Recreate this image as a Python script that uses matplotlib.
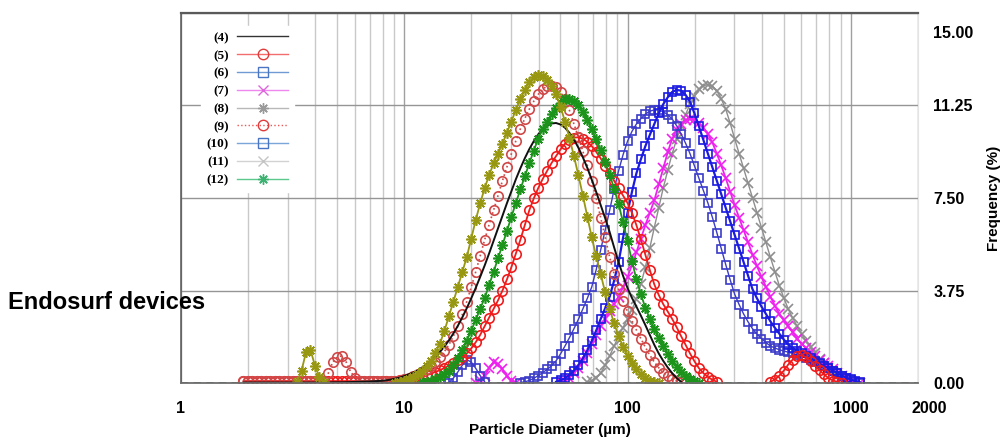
import matplotlib
matplotlib.use("Agg")
import matplotlib.pyplot as plt
import matplotlib.transforms as mtransforms
from matplotlib.lines import Line2D
from matplotlib.ticker import FixedLocator, LogLocator, NullFormatter
import numpy as np

plt.rcParams["font.family"] = ["Liberation Sans", "DejaVu Sans"]
plt.rcParams["font.weight"] = "bold"

# particle size classes (um)
diameter_um = [
    1.905, 1.995, 2.089, 2.188, 2.291, 2.399, 2.512, 2.630, 2.754, 2.884,
    3.020, 3.162, 3.311, 3.467, 3.631, 3.802, 3.981, 4.169, 4.365, 4.571,
    4.786, 5.012, 5.248, 5.495, 5.754, 6.026, 6.310, 6.607, 6.918, 7.244,
    7.586, 7.943, 8.318, 8.710, 9.120, 9.550, 10.00, 10.47, 10.96, 11.48,
    12.02, 12.59, 13.18, 13.80, 14.45, 15.14, 15.85, 16.60, 17.38, 18.20,
    19.05, 19.95, 20.89, 21.88, 22.91, 23.99, 25.12, 26.30, 27.54, 28.84,
    30.20, 31.62, 33.11, 34.67, 36.31, 38.02, 39.81, 41.69, 43.65, 45.71,
    47.86, 50.12, 52.48, 54.95, 57.54, 60.26, 63.10, 66.07, 69.18, 72.44,
    75.86, 79.43, 83.18, 87.10, 91.20, 95.50, 100.0, 104.7, 109.6, 114.8,
    120.2, 125.9, 131.8, 138.0, 144.5, 151.4, 158.5, 166.0, 173.8, 182.0,
    190.5, 199.5, 208.9, 218.8, 229.1, 239.9, 251.2, 263.0, 275.4, 288.4,
    302.0, 316.2, 331.1, 346.7, 363.1, 380.2, 398.1, 416.9, 436.5, 457.1,
    478.6, 501.2, 524.8, 549.5, 575.4, 602.6, 631.0, 660.7, 691.8, 724.4,
    758.6, 794.3, 831.8, 871.0, 912.0, 955.0, 1000., 1047., 1096.,
]

# frequency (%) per size class for each device
freq_4 = [
    0.02, 0.02, 0.02, 0.02, 0.02, 0.02, 0.02, 0.02, 0.02, 0.02,
    0.02, 0.02, 0.02, 0.02, 0.02, 0.02, 0.02, 0.02, 0.02, 0.02,
    0.03, 0.03, 0.03, 0.035, 0.04, 0.045, 0.05, 0.055, 0.06, 0.07,
    0.08, 0.09, 0.11, 0.14, 0.18, 0.22, 0.28, 0.35, 0.42, 0.51,
    0.62, 0.75, 0.90, 1.07, 1.26, 1.48, 1.73, 2.01, 2.32, 2.66,
    3.03, 3.43, 3.85, 4.30, 4.76, 5.25, 5.76, 6.27, 6.78, 7.29,
    7.78, 8.26, 8.70, 9.11, 9.48, 9.80, 10.08, 10.29, 10.44, 10.52,
    10.54, 10.48, 10.35, 10.14, 9.87, 9.54, 9.15, 8.72, 8.24, 7.74,
    7.21, 6.68, 6.12, 5.50, 4.90, 4.35, 3.85, 3.45, 3.10, 2.73,
    2.35, 1.95, 1.55, 1.20, 0.90, 0.63, 0.40, 0.20, 0.05, 0,
    0, 0, 0, 0, 0, 0, 0, 0, 0, 0,
    0, 0, 0, 0, 0, 0, 0, 0, 0, 0,
    0, 0, 0, 0, 0, 0, 0, 0, 0, 0,
    0, 0, 0, 0, 0, 0, 0, 0, 0,
]
freq_5 = [
    0.08, 0.08, 0.08, 0.08, 0.08, 0.08, 0.08, 0.08, 0.08, 0.08,
    0.08, 0.08, 0.08, 0.08, 0.08, 0.08, 0.08, 0.08, 0.08, 0.08,
    0.08, 0.08, 0.08, 0.08, 0.08, 0.08, 0.08, 0.08, 0.08, 0.08,
    0.08, 0.085, 0.09, 0.095, 0.10, 0.11, 0.12, 0.15, 0.18, 0.21,
    0.25, 0.31, 0.38, 0.45, 0.52, 0.61, 0.70, 0.80, 0.92, 1.05,
    1.20, 1.40, 1.65, 1.95, 2.30, 2.65, 3.00, 3.35, 3.75, 4.20,
    4.70, 5.25, 5.80, 6.40, 7.00, 7.48, 7.90, 8.27, 8.60, 8.92,
    9.20, 9.47, 9.70, 9.87, 9.95, 9.96, 9.90, 9.78, 9.60, 9.37,
    9.10, 8.80, 8.50, 8.20, 7.90, 7.60, 7.30, 6.90, 6.40, 5.82,
    5.20, 4.58, 4.00, 3.57, 3.20, 2.90, 2.60, 2.26, 1.90, 1.55,
    1.20, 0.88, 0.60, 0.40, 0.25, 0.13, 0.05, 0, 0, 0,
    0, 0, 0, 0, 0, 0, 0, 0, 0.05, 0.14,
    0.30, 0.50, 0.75, 0.95, 1.10, 1.12, 1.05, 0.90, 0.70, 0.52,
    0.35, 0.20, 0.10, 0.05, 0.02, 0, 0, 0, 0,
]
freq_6 = [
    0, 0, 0, 0, 0, 0, 0, 0, 0, 0,
    0, 0, 0, 0, 0, 0, 0, 0, 0, 0,
    0, 0, 0, 0, 0, 0, 0, 0, 0, 0,
    0, 0, 0, 0, 0, 0, 0, 0, 0, 0,
    0, 0, 0, 0, 0, 0, 0.02, 0.20, 0.45, 0.72,
    0.95, 0.85, 0.60, 0.30, 0.05, 0, 0, 0, 0, 0,
    0, 0, 0.02, 0.05, 0.10, 0.19, 0.30, 0.42, 0.55, 0.70,
    0.90, 1.18, 1.50, 1.84, 2.20, 2.58, 3.00, 3.43, 3.90, 4.60,
    5.40, 6.20, 7.00, 7.85, 8.60, 9.25, 9.80, 10.20, 10.50, 10.72,
    10.90, 11.02, 11.07, 11.06, 11.00, 10.88, 10.70, 10.43, 10.10, 9.72,
    9.30, 8.80, 8.30, 7.80, 7.30, 6.72, 6.10, 5.45, 4.80, 4.18,
    3.60, 3.18, 2.80, 2.48, 2.20, 1.98, 1.80, 1.64, 1.50, 1.42,
    1.35, 1.30, 1.25, 1.20, 1.15, 1.08, 1.00, 0.92, 0.85, 0.78,
    0.70, 0.60, 0.50, 0.40, 0.30, 0.20, 0.12, 0.06, 0.02,
]
freq_7 = [
    0, 0, 0, 0, 0, 0, 0, 0, 0, 0,
    0, 0, 0, 0, 0, 0, 0, 0, 0, 0,
    0, 0, 0, 0, 0, 0, 0, 0, 0, 0,
    0, 0, 0, 0, 0, 0, 0, 0, 0, 0,
    0, 0, 0, 0, 0, 0, 0, 0, 0, 0,
    0, 0, 0.02, 0.12, 0.30, 0.60, 0.85, 0.78, 0.55, 0.30,
    0.10, 0.02, 0, 0, 0, 0, 0, 0, 0, 0,
    0, 0.03, 0.10, 0.22, 0.40, 0.62, 0.90, 1.22, 1.60, 1.95,
    2.30, 2.60, 2.90, 3.20, 3.50, 3.88, 4.30, 4.78, 5.30, 5.85,
    6.40, 6.90, 7.40, 8.05, 8.70, 9.35, 9.90, 10.25, 10.50, 10.65,
    10.72, 10.68, 10.55, 10.35, 10.10, 9.75, 9.30, 8.82, 8.30, 7.76,
    7.20, 6.70, 6.20, 5.70, 5.20, 4.74, 4.30, 3.90, 3.50, 3.14,
    2.80, 2.55, 2.30, 2.05, 1.80, 1.60, 1.40, 1.25, 1.10, 0.95,
    0.80, 0.68, 0.55, 0.42, 0.30, 0.19, 0.10, 0.05, 0.02,
]
freq_8 = [
    0, 0, 0, 0, 0, 0, 0, 0, 0, 0,
    0, 0, 0.05, 0.50, 1.25, 1.35, 0.70, 0.25, 0.05, 0,
    0, 0, 0, 0, 0, 0, 0, 0, 0, 0,
    0, 0, 0, 0, 0.02, 0.05, 0.10, 0.17, 0.25, 0.36,
    0.50, 0.68, 0.90, 1.22, 1.60, 2.12, 2.70, 3.30, 3.90, 4.50,
    5.10, 5.85, 6.60, 7.28, 7.90, 8.42, 8.90, 9.30, 9.70, 10.15,
    10.60, 11.08, 11.50, 11.88, 12.20, 12.40, 12.50, 12.46, 12.30, 12.05,
    11.70, 11.20, 10.60, 9.93, 9.20, 8.42, 7.60, 6.75, 5.90, 5.13,
    4.40, 3.68, 3.00, 2.42, 1.90, 1.48, 1.10, 0.80, 0.55, 0.35,
    0.20, 0.10, 0.05, 0.02, 0, 0, 0, 0, 0, 0,
    0, 0, 0, 0, 0, 0, 0, 0, 0, 0,
    0, 0, 0, 0, 0, 0, 0, 0, 0, 0,
    0, 0, 0, 0, 0, 0, 0, 0, 0, 0,
    0, 0, 0, 0, 0, 0, 0, 0, 0,
]
freq_9 = [
    0.08, 0.08, 0.08, 0.08, 0.08, 0.08, 0.08, 0.08, 0.08, 0.08,
    0.08, 0.08, 0.08, 0.08, 0.08, 0.08, 0.08, 0.08, 0.10, 0.40,
    0.85, 1.05, 1.10, 0.85, 0.45, 0.22, 0.10, 0.08, 0.08, 0.08,
    0.08, 0.08, 0.08, 0.09, 0.10, 0.12, 0.15, 0.21, 0.30, 0.37,
    0.45, 0.56, 0.70, 0.86, 1.05, 1.28, 1.55, 1.90, 2.30, 2.78,
    3.30, 3.88, 4.50, 5.15, 5.80, 6.42, 7.00, 7.60, 8.20, 8.76,
    9.30, 9.82, 10.30, 10.72, 11.10, 11.42, 11.70, 11.90, 12.05, 12.06,
    12.00, 11.80, 11.50, 11.05, 10.50, 9.97, 9.40, 8.82, 8.20, 7.48,
    6.70, 5.90, 5.10, 4.42, 3.80, 3.32, 2.90, 2.52, 2.15, 1.80,
    1.45, 1.13, 0.85, 0.62, 0.42, 0.27, 0.15, 0.09, 0.05, 0,
    0, 0, 0, 0, 0, 0, 0, 0, 0, 0,
    0, 0, 0, 0, 0, 0, 0, 0, 0, 0,
    0, 0, 0, 0, 0, 0, 0, 0, 0, 0,
    0, 0, 0, 0, 0, 0, 0, 0, 0,
]
freq_10 = [
    0, 0, 0, 0, 0, 0, 0, 0, 0, 0,
    0, 0, 0, 0, 0, 0, 0, 0, 0, 0,
    0, 0, 0, 0, 0, 0, 0, 0, 0, 0,
    0, 0, 0, 0, 0, 0, 0, 0, 0, 0,
    0, 0, 0, 0, 0, 0, 0, 0, 0, 0,
    0, 0, 0, 0, 0, 0, 0, 0, 0, 0,
    0, 0, 0, 0, 0, 0, 0, 0, 0, 0,
    0.05, 0.11, 0.20, 0.33, 0.50, 0.73, 1.00, 1.33, 1.70, 2.13,
    2.60, 3.03, 3.50, 4.15, 4.90, 5.88, 6.90, 7.75, 8.50, 9.07,
    9.60, 10.06, 10.50, 10.93, 11.30, 11.58, 11.80, 11.88, 11.85, 11.68,
    11.40, 10.93, 10.40, 9.85, 9.30, 8.75, 8.20, 7.65, 7.10, 6.55,
    6.00, 5.45, 4.90, 4.33, 3.80, 3.43, 3.10, 2.80, 2.50, 2.24,
    2.00, 1.76, 1.55, 1.42, 1.30, 1.20, 1.10, 1.00, 0.90, 0.80,
    0.70, 0.60, 0.50, 0.40, 0.30, 0.22, 0.15, 0.08, 0.03,
]
freq_11 = [
    0, 0, 0, 0, 0, 0, 0, 0, 0, 0,
    0, 0, 0, 0, 0, 0, 0, 0, 0, 0,
    0, 0, 0, 0, 0, 0, 0, 0, 0, 0,
    0, 0, 0, 0, 0, 0, 0, 0, 0, 0,
    0, 0, 0, 0, 0, 0, 0, 0, 0, 0,
    0, 0, 0, 0, 0, 0, 0, 0, 0, 0,
    0, 0, 0, 0, 0, 0, 0, 0, 0, 0,
    0, 0, 0, 0, 0, 0, 0, 0.03, 0.10, 0.22,
    0.40, 0.72, 1.10, 1.50, 1.90, 2.25, 2.60, 2.98, 3.40, 4.00,
    4.70, 5.48, 6.30, 7.10, 7.90, 8.62, 9.30, 9.88, 10.40, 10.88,
    11.30, 11.63, 11.90, 12.05, 12.10, 12.02, 11.85, 11.52, 11.10, 10.53,
    9.90, 9.30, 8.70, 8.10, 7.50, 6.90, 6.30, 5.70, 5.10, 4.52,
    3.95, 3.45, 3.00, 2.63, 2.30, 1.98, 1.70, 1.44, 1.20, 0.98,
    0.80, 0.62, 0.45, 0.31, 0.20, 0.11, 0.05, 0.02, 0,
]
freq_12 = [
    0, 0, 0, 0, 0, 0, 0, 0, 0, 0,
    0, 0, 0, 0, 0, 0, 0, 0, 0, 0,
    0, 0, 0, 0, 0, 0, 0, 0, 0, 0,
    0, 0, 0, 0, 0, 0, 0, 0, 0, 0,
    0.03, 0.06, 0.10, 0.16, 0.25, 0.36, 0.50, 0.72, 1.00, 1.33,
    1.70, 2.12, 2.55, 3.00, 3.45, 3.96, 4.50, 5.05, 5.60, 6.17,
    6.75, 7.30, 7.85, 8.38, 8.90, 9.42, 9.90, 10.28, 10.60, 10.90,
    11.15, 11.35, 11.50, 11.52, 11.45, 11.26, 11.00, 10.67, 10.30, 9.90,
    9.45, 8.97, 8.45, 7.88, 7.25, 6.52, 5.75, 4.95, 4.20, 3.60,
    3.05, 2.60, 2.20, 1.84, 1.50, 1.19, 0.90, 0.66, 0.45, 0.28,
    0.15, 0.07, 0.02, 0, 0, 0, 0, 0, 0, 0,
    0, 0, 0, 0, 0, 0, 0, 0, 0, 0,
    0, 0, 0, 0, 0, 0, 0, 0, 0, 0,
    0, 0, 0, 0, 0, 0, 0, 0, 0,
]

x_ticks = [1, 10, 100, 1000, 2000]
y_ticks = [0, 3.75, 7.5, 11.25, 15]

# (label, data, plot style, legend style); drawn in this order
series = [
    ("(11)", freq_11, dict(color="#8e8e8e", marker="x", ms=6.5, lw=1.0),
     dict(color="#d2d2d2", marker="x", mec="#c4c4c4")),
    ("(7)", freq_7, dict(color="#ee22ee", marker="x", ms=6.5, lw=1.3),
     dict(color="#ee88ee", marker="x", mec="#dd66dd")),
    ("(6)", freq_6, dict(color="#3b3bc8", marker="s", ms=5.8, lw=1.0),
     dict(color="#6f9ad4", marker="s", mec="#4a74c4")),
    ("(10)", freq_10, dict(color="#1a1ae0", marker="s", ms=5.8, lw=1.6),
     dict(color="#7aa6da", marker="s", mec="#4a74c4")),
    ("(5)", freq_5, dict(color="#f01c1c", marker="o", ms=6.8, lw=1.3),
     dict(color="#f26d6d", marker="o", mec="#e03c3c")),
    ("(9)", freq_9, dict(color="#d04848", marker="o", ms=6.8, lw=1.2, ls=":"),
     dict(color="#ee5555", marker="o", mec="#e03c3c", ls=":")),
    ("(4)", freq_4, dict(color="#111111", marker=None, lw=1.4),
     dict(color="#333333", marker=None)),
    ("(12)", freq_12, dict(color="#1c941c", marker=(8, 2, 0), ms=7.5, lw=1.3),
     dict(color="#5cc98c", marker=(8, 2, 0), mec="#3cb371")),
    ("(8)", freq_8, dict(color="#979712", marker=(8, 2, 0), ms=7.5, lw=1.3),
     dict(color="#b8b8b8", marker=(8, 2, 0), mec="#9a9a9a")),
]
legend_order = ["(4)", "(5)", "(6)", "(7)", "(8)", "(9)", "(10)", "(11)", "(12)"]

fig = plt.figure(figsize=(10.06, 4.40), dpi=100)
ax = fig.add_axes([0.1799, 0.1295, 0.7326, 0.841])

ax.set_xscale("log")
ax.set_xlim(1, 2000)
ax.set_ylim(0, 15)

# grid: light minor decades, darker majors and horizontal lines
ax.xaxis.set_major_locator(FixedLocator(x_ticks))
ax.xaxis.set_minor_locator(LogLocator(base=10, subs=np.arange(2, 10), numticks=20))
ax.xaxis.set_minor_formatter(NullFormatter())
ax.set_xticklabels([str(t) for t in x_ticks])
ax.yaxis.set_major_locator(FixedLocator(y_ticks))
ax.set_yticklabels(["%.2f" % t for t in y_ticks])
ax.grid(True, which="minor", axis="x", color="#c9c9c9", lw=1.0)
ax.grid(True, which="major", axis="x", color="#a0a0a0", lw=1.0)
ax.grid(True, which="major", axis="y", color="#959595", lw=1.0)
ax.set_axisbelow(True)

ax.yaxis.tick_right()
ax.yaxis.set_label_position("right")
ax.tick_params(axis="both", which="both", length=0)
ax.tick_params(axis="x", labelsize=11.5, pad=13)
ax.tick_params(axis="y", labelsize=11.5, pad=11)

for side, col, lw in [("top", "#5a5a5a", 1.6), ("bottom", "#6e6e6e", 1.3),
                      ("left", "#555555", 1.1), ("right", "#e4e4e4", 0.8)]:
    ax.spines[side].set_color(col)
    ax.spines[side].set_linewidth(lw)

ax.axhline(0, color="#2f6b3a", lw=1.3, ls=(0, (4, 3)), zorder=1.5)

d = np.array(diameter_um)
for label, values, style, _ in series:
    y = np.array(values, dtype=float)
    y[y == 0] = np.nan
    kw = dict(style)
    ax.plot(d, y, mfc="none", mew=1.2, mec=kw["color"], **kw)

# legend with text left of the sample lines
handles = {}
for label, _, _, lstyle in series:
    kw = dict(lstyle)
    handles[label] = Line2D([], [], lw=1.0, ms=7.5, mfc="none", mew=1.0, **kw)
leg = ax.legend([handles[k] for k in legend_order], legend_order,
                loc="upper left", bbox_to_anchor=(0.027, 0.965),
                borderaxespad=0, markerfirst=False, numpoints=1,
                handlelength=3.9, handletextpad=0.6, labelspacing=0.42,
                borderpad=0.45, frameon=True, fancybox=False,
                edgecolor="white", framealpha=1.0,
                prop=dict(family="Liberation Serif", weight="bold", size=9.5))

ax.set_xlabel("Particle Diameter (µm)", fontsize=11, fontweight="bold", labelpad=5)
ax.set_ylabel("Frequency (%)", fontsize=11, fontweight="bold", labelpad=10)


def shift_text(txt, dx_px, dy_px):
    off = mtransforms.ScaledTranslation(dx_px / 100.0, dy_px / 100.0, fig.dpi_scale_trans)
    txt.set_transform(txt.get_transform() + off)


# top frequency label sits below the frame, last size label slightly right
shift_text(ax.yaxis.get_major_ticks()[-1].label2, 0, -19)
shift_text(ax.xaxis.get_major_ticks()[-1].label1, 11, 0)

fig.text(8 / 1006, 0.3136, "Endosurf devices", fontsize=17, fontweight="bold",
         ha="left", va="center", zorder=5)

fig.savefig("out.png", dpi=100)
